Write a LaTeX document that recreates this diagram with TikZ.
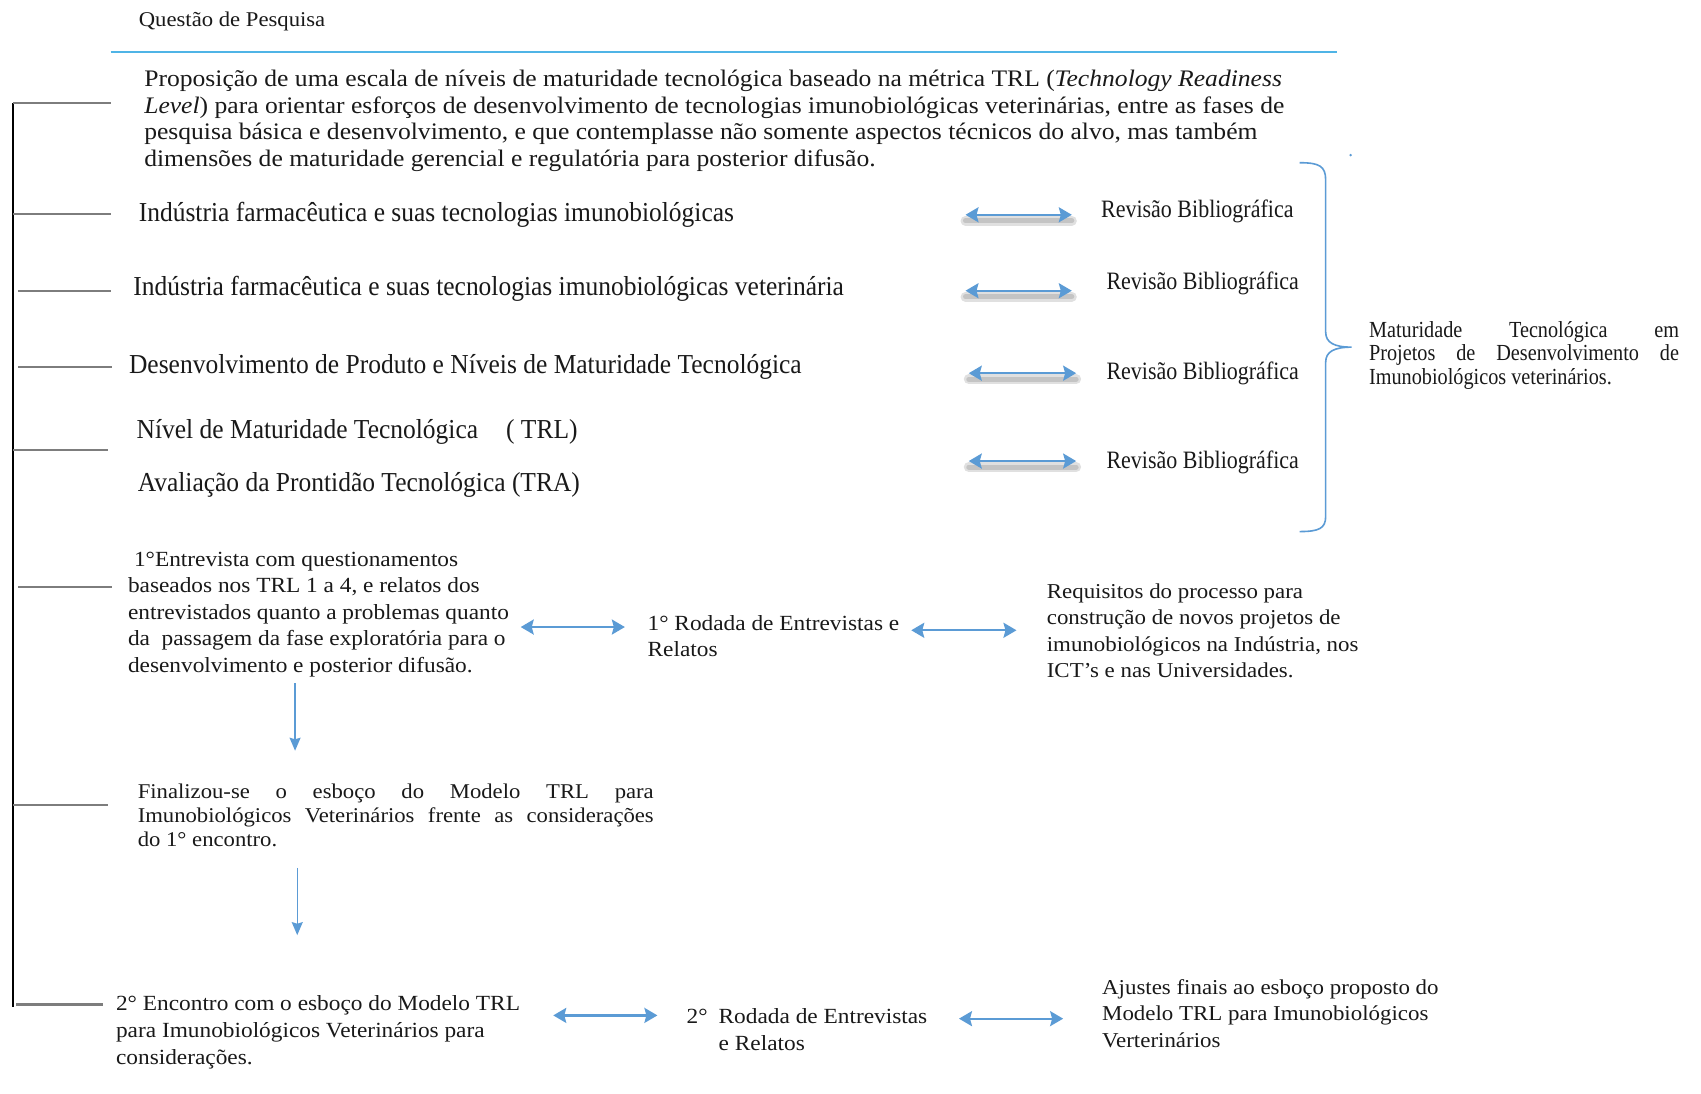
\documentclass[tikz,border=0pt]{standalone}
\usepackage{fontspec}
\setmainfont[FakeStretch=1.08]{Liberation Serif}
\newfontfamily\narrowfont[FakeStretch=0.88]{Liberation Serif}
\newfontfamily\topicfont[FakeStretch=0.93]{Liberation Serif}
\usetikzlibrary{arrows.meta}

\definecolor{arrowblue}{RGB}{91,155,213}
\definecolor{ruleblue}{RGB}{79,180,230}
\definecolor{stubgray}{RGB}{125,125,125}
\definecolor{inkc}{RGB}{25,25,25}

\tikzset{
  txt/.style={inner sep=0pt, outer sep=0pt, text=inkc, align=left},
  stub/.style={draw=stubgray, line width=1.1pt},
  spine/.style={draw=black, line width=0.8pt},
  biarrow/.style={draw=arrowblue, line width=1.1pt,
    {Stealth[width=7.5pt,length=6.5pt,inset=1pt]}-{Stealth[width=7.5pt,length=6.5pt,inset=1pt]}},
  downarrow/.style={draw=arrowblue, line width=0.7pt,
    -{Stealth[width=5.5pt,length=6.5pt,inset=0.8pt]}},
  softshadow/.style={draw=black, opacity=0.12, line cap=round},
  brace/.style={draw=arrowblue, line width=0.8pt},
}

\begin{document}
\begin{tikzpicture}[x=0.5424pt, y=-0.5424pt]
\fill[white] (0,0) rectangle (1568,1008);
\useasboundingbox (0,0) rectangle (1568,1008);

% heading and rule
\node[txt, anchor=mid west, font=\fontsize{10.5}{12}\selectfont] (quest) at (128,20) {Questão de Pesquisa};
\coordinate (ruleL) at (102,48);
\coordinate (ruleR) at (1232,48);
\draw[ruleblue, line width=1pt] (ruleL) -- (ruleR);

% research proposition
\node[txt, anchor=north west, font=\fontsize{11.85}{13.2}\selectfont] (prop) at (133,65)
{Proposição de uma escala de níveis de maturidade tecnológica baseado na métrica TRL (\textit{Technology Readiness}\\
\textit{Level}) para orientar esforços de desenvolvimento de tecnologias imunobiológicas veterinárias, entre as fases de\\
pesquisa básica e desenvolvimento, e que contemplasse não somente aspectos técnicos do alvo, mas também\\
dimensões de maturidade gerencial e regulatória para posterior difusão.};

% literature topics
\tikzset{topic/.style={txt, anchor=mid west, font=\topicfont\fontsize{13.7}{15}\selectfont}}
\node[topic] (t1) at (128,200) {Indústria farmacêutica e suas tecnologias imunobiológicas};
\node[topic] (t2) at (123,268) {Indústria farmacêutica e suas tecnologias imunobiológicas veterinária};
\node[topic] (t3) at (119,340) {Desenvolvimento de Produto e Níveis de Maturidade Tecnológica};
\node[topic] (t4) at (126,400) {Nível de Maturidade Tecnológica\hspace{14pt}( TRL)};
\node[topic] (t5) at (127,449) {Avaliação da Prontidão Tecnológica (TRA)};

\tikzset{revis/.style={txt, anchor=mid west, font=\narrowfont\fontsize{12.5}{14}\selectfont}}
\node[revis] (r1) at (1015,196) {Revisão Bibliográfica};
\node[revis] (r2) at (1020,263) {Revisão Bibliográfica};
\node[revis] (r3) at (1020,346) {Revisão Bibliográfica};
\node[revis] (r4) at (1020,428) {Revisão Bibliográfica};

\coordinate (a1l) at (890,198); \coordinate (a1r) at (988,198);
\coordinate (a2l) at (890,268); \coordinate (a2r) at (988,268);
\coordinate (a3l) at (893,344); \coordinate (a3r) at (992,344);
\coordinate (a4l) at (893,425); \coordinate (a4r) at (992,425);
\foreach \a in {a1,a2,a3,a4}{
  \draw[softshadow, line width=5pt] ([yshift=-3pt]\a l) -- ([yshift=-3pt]\a r);
  \draw[softshadow, line width=2.5pt] ([yshift=-3pt]\a l) -- ([yshift=-3pt]\a r);
  \draw[biarrow] (\a l) -- (\a r);
}

% brace grouping the reviews
\fill[arrowblue] (1245,143) circle (1.2);
\coordinate (brTop) at (1198,150);
\coordinate (brTip) at (1246,320);
\coordinate (brBot) at (1198,490);
\draw[brace] (brTop) .. controls (1216,150) and (1222,153) .. (1222,166)
  -- (1222,306) .. controls (1222,316) and (1230,320) .. (brTip)
  .. controls (1230,320) and (1222,324) .. (1222,334)
  -- (1222,476) .. controls (1222,487) and (1216,490) .. (brBot);
\node[txt, anchor=north west, font=\narrowfont\fontsize{11.5}{11.9}\selectfont] (mat) at (1262,296)
{\makebox[155pt][s]{Maturidade Tecnológica em}\\
\makebox[155pt][s]{Projetos de Desenvolvimento de}\\
Imunobiológicos veterinários.};

% interviews, first round
\tikzset{body/.style={txt, anchor=north west, font=\fontsize{10.8}{13.2}\selectfont}}
\node[body] (ent1) at (118,509)
{\hspace*{3pt}1°Entrevista com questionamentos\\
baseados nos TRL 1 a 4, e relatos dos\\
entrevistados quanto a problemas quanto\\
da\ \ passagem da fase exploratória para o\\
desenvolvimento e posterior difusão.};
\node[body] (rod1) at (597,567) {1° Rodada de Entrevistas e\\Relatos};
\node[body, font=\fontsize{10.6}{13.2}\selectfont] (req) at (965,538)
{Requisitos do processo para\\
construção de novos projetos de\\
imunobiológicos na Indústria, nos\\
ICT's e nas Universidades.};
\coordinate (a5l) at (480,578); \coordinate (a5r) at (576,578);
\coordinate (a6l) at (840,581); \coordinate (a6r) at (937,581);
\draw[biarrow] (a5l) -- (a5r);
\draw[biarrow] (a6l) -- (a6r);

\coordinate (d1t) at (272,630); \coordinate (d1b) at (272,692);
\draw[downarrow] (d1t) -- (d1b);

% draft of the model
\node[txt, anchor=north west, font=\fontsize{10.5}{11.9}\selectfont] (fin) at (127,723)
{\makebox[258pt][s]{Finalizou-se o esboço do Modelo TRL para}\\
\makebox[258pt][s]{Imunobiológicos Veterinários frente as considerações}\\
do 1° encontro.};
\coordinate (d2t) at (274,800); \coordinate (d2b) at (274,862);
\draw[downarrow] (d2t) -- (d2b);

% second round
\node[body, font=\fontsize{10.8}{13.3}\selectfont] (enc2) at (107,918)
{2° Encontro com o esboço do Modelo TRL\\
para Imunobiológicos Veterinários para\\
considerações.};
\node[body] (rod2) at (633,930)
{\makebox[16pt][l]{2°}Rodada de Entrevistas\\
\hspace*{16pt}e Relatos};
\node[body, font=\fontsize{10.6}{13.2}\selectfont] (aj) at (1016,903)
{Ajustes finais ao esboço proposto do\\
Modelo TRL para Imunobiológicos\\
Verterinários};
\coordinate (a7l) at (510,936); \coordinate (a7r) at (606,936);
\coordinate (a8l) at (884,939); \coordinate (a8r) at (980,939);
\draw[biarrow] (a7l) -- (a7r);
\draw[biarrow] (a8l) -- (a8r);

% left spine with its branches
\coordinate (spTop) at (12,95);
\coordinate (spBot) at (12,928);
\draw[spine] (spTop) -- (spBot);
\foreach \ya/\xa/\xb in {95/12/102, 197/12/102, 268/17/102, 338/17/103,
                         415/12/100, 541/17/103, 742/12/100, 926/15/95}{
  \coordinate (s\ya a) at (\xa,\ya);
  \coordinate (s\ya b) at (\xb,\ya);
  \draw[stub] (s\ya a) -- (s\ya b);
}
\end{tikzpicture}
\end{document}
